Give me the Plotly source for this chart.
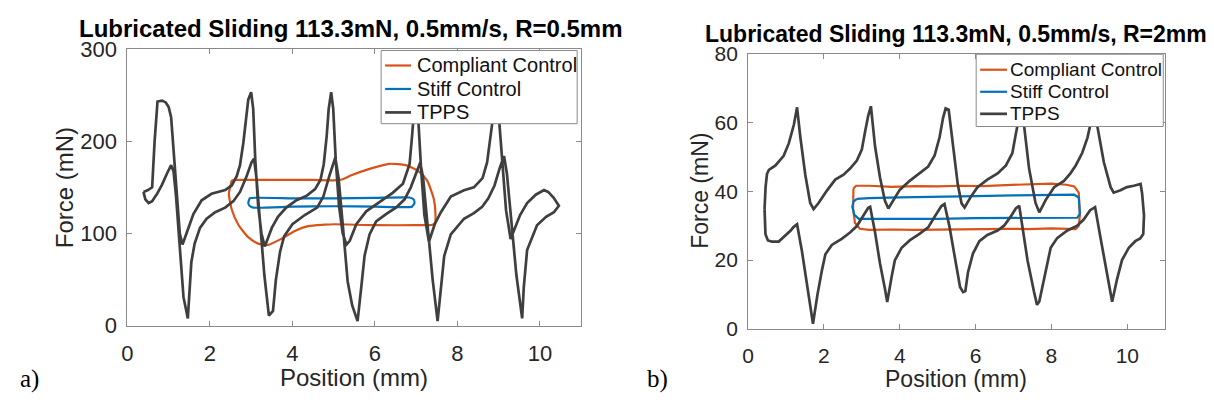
import plotly.graph_objects as go

W, H = 1214, 407

# ---------------- Panel a) data (R = 0.5 mm) ----------------
a_tpps_upper_x = [0.39, 0.50, 0.60, 0.66, 0.73, 0.84, 0.93, 1.00, 1.06, 1.12, 1.20, 1.27, 1.336,
                  1.40, 1.48, 1.60, 1.80, 2.04, 2.37, 2.53, 2.65, 2.73, 2.81, 2.87, 2.93, 3.00,
                  3.05, 3.10, 3.17, 3.25, 3.33, 3.40, 3.50, 3.65, 3.85, 4.10, 4.35, 4.55, 4.68,
                  4.76, 4.83, 4.88, 4.94, 4.99, 5.05, 5.13, 5.22, 5.31, 5.39, 5.55, 5.79, 6.11,
                  6.43, 6.68, 6.84, 6.90, 6.96, 7.00, 7.05, 7.12, 7.20, 7.31, 7.45, 7.60, 7.84,
                  8.16, 8.40, 8.61, 8.72, 8.84, 8.93, 9.02, 9.10, 9.18, 9.29, 9.37, 9.52, 9.69,
                  9.90, 10.10, 10.20, 10.33, 10.46]
a_tpps_upper_f = [145, 147, 150, 200, 243, 244, 242, 237, 226, 190, 135, 100, 88,
                  96, 108, 121, 136, 143, 147, 152, 162, 174, 198, 225, 245, 253,
                  235, 180, 130, 100, 86, 94, 106, 118, 128, 136, 141, 148, 158,
                  175, 205, 235, 253, 235, 180, 130, 100, 88, 92, 110, 124, 134,
                  144, 154, 175, 205, 240, 250, 225, 170, 120, 91, 110, 123, 140,
                  146.8, 150, 160, 177, 218, 250, 218, 170, 125, 94, 103, 120, 133,
                  142, 147, 145, 139, 130]

a_tpps_lower_x = [0.39, 0.435, 0.515, 0.60, 0.72, 0.84, 0.96, 1.06, 1.12, 1.18, 1.27, 1.36, 1.465,
                  1.50, 1.55, 1.63, 1.76, 1.92, 2.13, 2.37, 2.57, 2.73, 2.89, 3.01, 3.07, 3.13,
                  3.22, 3.32, 3.43, 3.53, 3.60, 3.70, 3.80, 4.00, 4.30, 4.60, 4.75, 4.90, 5.04,
                  5.12, 5.22, 5.34, 5.45, 5.58, 5.67, 5.75, 5.87, 6.03, 6.27, 6.51, 6.72, 6.87,
                  6.99, 7.10, 7.17, 7.27, 7.40, 7.52, 7.60, 7.68, 7.84, 8.16, 8.40, 8.60, 8.75,
                  8.90, 9.02, 9.13, 9.20, 9.30, 9.43, 9.57, 9.61, 9.69, 9.93, 10.15, 10.34,
                  10.46]
a_tpps_lower_f = [145, 137, 133, 135, 143, 153, 165, 174, 167, 140, 90, 31, 8,
                  35, 69, 89, 106, 116, 123, 128, 135, 145, 162, 177, 181, 160,
                  110, 55, 11, 16, 50, 80, 97, 110, 120, 128, 140, 163, 182,
                  160, 110, 48, 22, 5, 42, 76, 99, 113, 121, 128, 137, 150,
                  165, 177, 160, 110, 50, 5, 40, 75.6, 99, 116, 122, 129, 138,
                  152, 170, 184, 165, 120, 55, 8, 42, 82, 109, 118, 123,
                  130]

a_compliant_x = [2.50, 2.53, 2.60, 3.00, 3.50, 4.00, 4.50, 5.00, 5.20, 5.43, 5.87, 6.35, 6.75,
                 7.07, 7.27, 7.43, 7.47, 7.46, 7.40, 7.00, 6.00, 5.00, 4.78, 4.38, 4.06, 3.74,
                 3.41, 3.17, 2.93, 2.69, 2.53, 2.46, 2.50]
a_compliant_f = [152, 157, 158, 158, 158, 158, 158, 157.5, 158.5, 163, 170, 175.5, 174,
                 167, 157, 137, 120, 112, 109.5, 109, 109, 110, 109.5, 108, 102.8, 94.4,
                 87.6, 89, 96, 109.5, 126, 143, 152]

a_stiff_x = [2.97, 4.00, 5.00, 6.00, 6.84, 6.94, 6.96, 6.90, 6.84, 6.00, 5.00, 4.00, 3.05,
             2.96, 2.93, 2.95, 2.97]
a_stiff_f = [138.3, 138, 138, 138.5, 139, 137, 133, 129, 128.6, 129, 129.5, 129, 128,
             130, 133, 136.5, 138.3]

# ---------------- Panel b) data (R = 2 mm) ----------------
b_tpps_upper_x = [0.436, 0.463, 0.50, 0.55, 0.725, 0.94, 1.075, 1.21, 1.293, 1.38, 1.51, 1.64,
                  1.73, 1.86, 2.08, 2.30, 2.52, 2.69, 2.87, 3.00, 3.09, 3.17, 3.24, 3.35, 3.48,
                  3.61, 3.70, 3.83, 4.00, 4.27, 4.53, 4.75, 4.92, 5.05, 5.14, 5.21, 5.29, 5.40,
                  5.53, 5.63, 5.71, 5.88, 6.05, 6.31, 6.58, 6.80, 6.97, 7.06, 7.14, 7.20, 7.28,
                  7.41, 7.58, 7.68, 7.85, 8.07, 8.33, 8.50, 8.64, 8.81, 8.95, 9.03, 9.12, 9.21,
                  9.38, 9.56, 9.64, 9.82, 9.99, 10.17, 10.35, 10.39, 10.44, 10.42]
b_tpps_upper_f = [34.8, 41.2, 45.0, 46.2, 47.5, 50.3, 53.9, 59.4, 64.4, 55.7, 44.8, 36.6,
                  34.8, 36.6, 40.2, 43.4, 44.8, 46.6, 48.9, 52.1, 57.5, 62.0, 64.7, 53.0, 44.0,
                  37.2, 35.0, 37.2, 40.4, 43.1, 45.4, 47.2, 50.4, 55.7, 61.2, 64.1, 63.7, 53.0,
                  42.0, 36.5, 35.3, 38.5, 41.2, 43.4, 45.2, 47.5, 51.1, 56.6, 61.5, 64.5, 58.9,
                  46.6, 36.6, 33.9, 37.5, 41.2, 43.0, 45.2, 47.5, 51.1, 55.6, 59.5, 64.0, 58.9,
                  48.5, 41.2, 39.6, 40.3, 41.2, 41.6, 42.1, 39.4, 33.0, 27.6]

b_tpps_lower_x = [0.436, 0.46, 0.524, 0.63, 0.81, 0.94, 1.118, 1.20, 1.293, 1.42, 1.56, 1.65,
                  1.713, 1.83, 1.95, 2.04, 2.21, 2.47, 2.69, 2.87, 3.04, 3.17, 3.22, 3.35, 3.48,
                  3.61, 3.67, 3.79, 3.87, 4.05, 4.27, 4.53, 4.75, 4.92, 5.10, 5.18, 5.31, 5.45,
                  5.59, 5.67, 5.73, 5.80, 5.93, 6.10, 6.31, 6.58, 6.75, 6.93, 7.06, 7.15, 7.24,
                  7.37, 7.54, 7.62, 7.68, 7.81, 7.98, 8.15, 8.42, 8.68, 8.85, 9.02, 9.15, 9.28,
                  9.45, 9.60, 9.73, 9.86, 10.04, 10.21, 10.34, 10.42]
b_tpps_lower_f = [34.8, 27.5, 25.7, 25.4, 25.4, 26.6, 28.5, 29.6, 30.4, 22.7, 13.6, 6.0,
                  1.5, 9.9, 17.1, 21.7, 24.4, 26.2, 28.0, 29.9, 33.0, 35.2, 35.5, 28.0, 19.0,
                  11.7, 7.8, 15.4, 19.9, 23.6, 25.8, 27.7, 29.5, 32.6, 35.7, 36.3, 29.8, 20.8,
                  12.2, 10.7, 11.0, 16.5, 21.9, 25.5, 27.3, 28.6, 30.0, 32.7, 35.0, 35.8, 29.9,
                  19.9, 10.8, 7.0, 8.0, 14.5, 23.6, 26.4, 28.6, 30.0, 31.8, 34.5, 35.4, 27.3,
                  16.5, 7.9, 14.5, 20.0, 23.6, 25.5, 26.3, 27.6]

b_compliant_x = [2.78, 2.85, 3.20, 3.80, 4.40, 5.00, 5.60, 6.20, 6.80, 7.40, 8.00, 8.40, 8.60,
                 8.72, 8.75, 8.72, 8.64, 8.00, 7.40, 6.80, 6.20, 5.60, 5.00, 4.40, 3.80, 3.20,
                 2.95, 2.82, 2.77, 2.78]
b_compliant_f = [40.8, 41.6, 41.6, 41.3, 41.5, 41.4, 41.6, 41.5, 41.8, 41.9, 42.2, 41.9, 41.4,
                 39.6, 33.0, 30.0, 29.0, 29.2, 29.0, 29.1, 29.0, 29.1, 28.9, 28.8, 28.9, 28.8,
                 29.1, 30.8, 35.0, 40.8]

b_stiff_x = [2.87, 3.20, 4.00, 5.00, 6.00, 7.00, 8.00, 8.60, 8.72, 8.75, 8.68, 8.00, 7.00,
             6.00, 5.00, 4.00, 3.20, 2.92, 2.80, 2.75, 2.78, 2.87]
b_stiff_f = [37.8, 38.0, 38.2, 38.5, 38.6, 38.8, 39.0, 39.0, 38.2, 33.5, 32.3, 32.3, 32.2,
             32.2, 32.0, 32.0, 31.8, 32.0, 33.2, 35.5, 37.0, 37.8]

x_ticks = [0, 2, 4, 6, 8, 10]
a_y_ticks = [0, 100, 200, 300]
b_y_ticks = [0, 20, 40, 60, 80]

title_a = "Lubricated Sliding 113.3mN, 0.5mm/s, R=0.5mm"
title_b = "Lubricated Sliding 113.3mN, 0.5mm/s, R=2mm"
series_names = ["Compliant Control", "Stiff Control", "TPPS"]

ORANGE = "#D95319"
BLUE = "#0072BD"
GRAY = "#3f3f3f"
AXC = "#8a8a8a"
SANS = "Liberation Sans, Arial, sans-serif"
SERIF = "Liberation Serif, Times New Roman, serif"
series_colors = [ORANGE, BLUE, GRAY]
series_widths = [2.2, 2.2, 2.7]


def loop(ux, uf, lx, lf):
    return ux + lx[::-1], uf + lf[::-1]


fig = go.Figure()

# Panel a
fig.add_trace(go.Scatter(x=a_compliant_x, y=a_compliant_f, mode="lines", name=series_names[0],
                         line=dict(color=ORANGE, width=2.2, shape="spline", smoothing=0.6),
                         xaxis="x", yaxis="y", showlegend=False))
fig.add_trace(go.Scatter(x=a_stiff_x, y=a_stiff_f, mode="lines", name=series_names[1],
                         line=dict(color=BLUE, width=2.2, shape="spline", smoothing=0.5),
                         xaxis="x", yaxis="y", showlegend=False))
ax_, af_ = loop(a_tpps_upper_x, a_tpps_upper_f, a_tpps_lower_x, a_tpps_lower_f)
fig.add_trace(go.Scatter(x=ax_, y=af_, mode="lines", name=series_names[2],
                         line=dict(color=GRAY, width=2.7),
                         xaxis="x", yaxis="y", showlegend=False))

# Panel b
fig.add_trace(go.Scatter(x=b_compliant_x, y=b_compliant_f, mode="lines", name=series_names[0],
                         line=dict(color=ORANGE, width=2.2),
                         xaxis="x2", yaxis="y2", showlegend=False))
fig.add_trace(go.Scatter(x=b_stiff_x, y=b_stiff_f, mode="lines", name=series_names[1],
                         line=dict(color=BLUE, width=2.2),
                         xaxis="x2", yaxis="y2", showlegend=False))
bx_, bf_ = loop(b_tpps_upper_x, b_tpps_upper_f, b_tpps_lower_x, b_tpps_lower_f)
fig.add_trace(go.Scatter(x=bx_, y=bf_, mode="lines", name=series_names[2],
                         line=dict(color=GRAY, width=2.7),
                         xaxis="x2", yaxis="y2", showlegend=False))

axis_common = dict(showline=True, linecolor=AXC, linewidth=1, mirror="allticks",
                   ticks="inside", ticklen=5, tickcolor=AXC, showgrid=False, zeroline=False)


def tf(size):
    return dict(family=SANS, color="#262626", size=size)


fig.update_layout(
    width=W, height=H,
    margin=dict(l=0, r=0, t=0, b=0),
    paper_bgcolor="white", plot_bgcolor="white",
    showlegend=False,
    xaxis=dict(domain=[122 / W, 578 / W], range=[0, 11], tickvals=x_ticks,
               anchor="y", ticklabelstandoff=8, tickfont=tf(22), **axis_common),
    yaxis=dict(domain=[(H - 334.3) / H, (H - 39.3) / H], range=[0, 300], tickvals=a_y_ticks,
               anchor="x", ticklabelstandoff=5, tickfont=tf(22), **axis_common),
    xaxis2=dict(domain=[745.7 / W, 1165 / W], range=[0, 11], tickvals=x_ticks,
                anchor="y2", ticklabelstandoff=8, tickfont=tf(21), **axis_common),
    yaxis2=dict(domain=[(H - 337.7) / H, (H - 44.3) / H], range=[0, 80], tickvals=b_y_ticks,
                anchor="x2", ticklabelstandoff=5, tickfont=tf(21), **axis_common),
)

ann = [
    dict(text="<b>%s</b>" % title_a, x=347 / W, y=1 - 18 / H, font=dict(family=SANS, size=24, color="#000")),
    dict(text="<b>%s</b>" % title_b, x=954.5 / W, y=1 - 23 / H, font=dict(family=SANS, size=23, color="#000")),
    dict(text="Position (mm)", x=350 / W, y=1 - 389 / H, font=dict(family=SANS, size=24, color="#262626")),
    dict(text="Position (mm)", x=955 / W, y=1 - 391 / H, font=dict(family=SANS, size=23, color="#262626")),
    dict(text="Force (mN)", x=59 / W, y=1 - 187 / H, textangle=-90, font=dict(family=SANS, size=24, color="#262626")),
    dict(text="Force (mN)", x=698 / W, y=1 - 191 / H, textangle=-90, font=dict(family=SANS, size=23, color="#262626")),
    dict(text="a)", x=24 / W, y=1 - 391 / H, font=dict(family=SERIF, size=25, color="#000")),
    dict(text="b)", x=655 / W, y=1 - 391 / H, font=dict(family=SERIF, size=25, color="#000")),
]
for a in ann:
    a.update(xref="paper", yref="paper", showarrow=False, xanchor="center", yanchor="middle")

# Legend boxes (one per panel), drawn in paper space
shapes = []
legend_specs = [
    ((377, 41, 574, 119), 381, 407, 411, [57, 82, 107], 20),
    ((975, 45, 1163, 122), 979, 1006, 1007, [61.5, 85, 108.5], 19),
]
for (bx0, by0, bx1, by1), sx0, sx1, tx, rows, fs in legend_specs:
    shapes.append(dict(type="rect", xref="paper", yref="paper", layer="above",
                       x0=bx0 / W, x1=bx1 / W, y0=1 - by1 / H, y1=1 - by0 / H,
                       fillcolor="white", line=dict(color=AXC, width=1)))
    for name, col, lw, ry in zip(series_names, series_colors, series_widths, rows):
        shapes.append(dict(type="line", xref="paper", yref="paper", layer="above",
                           x0=sx0 / W, x1=sx1 / W, y0=1 - ry / H, y1=1 - ry / H,
                           line=dict(color=col, width=lw)))
        ann.append(dict(text=name, x=tx / W, y=1 - ry / H, xref="paper", yref="paper",
                        showarrow=False, xanchor="left", yanchor="middle",
                        font=dict(family=SANS, size=fs, color="#111")))

fig.update_layout(annotations=ann, shapes=shapes)

fig.write_html("out.html")
